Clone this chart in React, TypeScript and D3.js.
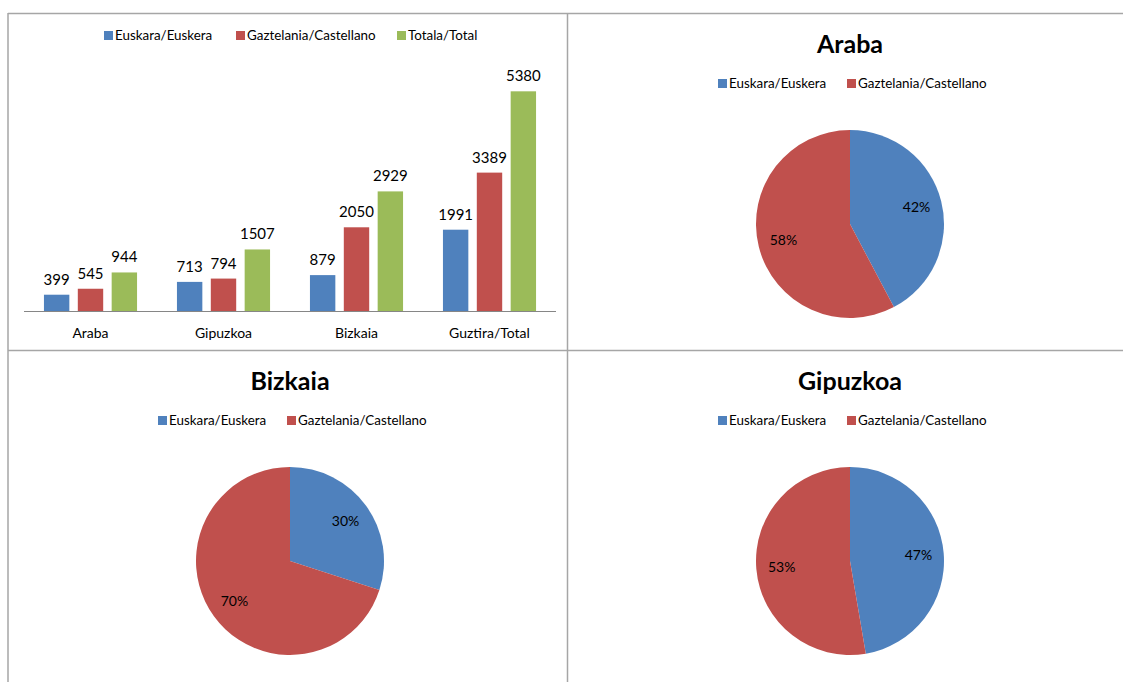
import React from "react";
import * as d3 from "d3";

// DATA
const categories = ["Araba", "Gipuzkoa", "Bizkaia", "Guztira/Total"];
const seriesNames = ["Euskara/Euskera", "Gaztelania/Castellano", "Totala/Total"];
const euskara = [399, 713, 879, 1991];
const gaztelania = [545, 794, 2050, 3389];
const totala = [944, 1507, 2929, 5380];
const pieNames = ["Araba", "Bizkaia", "Gipuzkoa"];
const pieIndex = [0, 2, 1]; // index into categories

const COLORS = ["#4F81BD", "#C0504D", "#9BBB59"];
const FONT = "Lato, 'Liberation Sans', sans-serif";
const GRID = "#a6a6a6";

const W = 1123;
const H = 682;

function BarChart() {
  const series = [euskara, gaztelania, totala];
  const x0 = d3.scaleBand().domain(categories).range([24, 556]).paddingInner(0.3).paddingOuter(0.15);
  const x1 = d3
    .scaleBand()
    .domain(seriesNames)
    .range([0, x0.bandwidth()])
    .paddingInner(0.25);
  const y = d3.scaleLinear().domain([0, 6000]).range([311, 66]);

  return (
    <g fontFamily={FONT}>
      {/* legend */}
      {seriesNames.map((name, i) => {
        const lx = [104, 236, 397][i];
        return (
          <g key={name}>
            <rect x={lx} y={31} width={9} height={9} fill={COLORS[i]} />
            <text x={lx + 11} y={40} fontSize={13.4} fill="#000">
              {name}
            </text>
          </g>
        );
      })}
      {categories.map((c, ci) => (
        <g key={c}>
          {series.map((s, si) => {
            const bx = (x0(c) ?? 0) + (x1(seriesNames[si]) ?? 0);
            return (
              <g key={si}>
                <rect x={bx} y={y(s[ci])} width={x1.bandwidth()} height={y(0) - y(s[ci])} fill={COLORS[si]} />
                <text
                  x={bx + x1.bandwidth() / 2}
                  y={y(s[ci]) - 10}
                  textAnchor="middle"
                  fontSize={15}
                  fill="#000"
                >
                  {s[ci]}
                </text>
              </g>
            );
          })}
          <text x={(x0(c) ?? 0) + x0.bandwidth() / 2} y={338} textAnchor="middle" fontSize={14} fill="#000">
            {c}
          </text>
        </g>
      ))}
      <line x1={24} x2={556} y1={311.5} y2={311.5} stroke="#868686" strokeWidth={1} />
    </g>
  );
}

function PieChart({ title, ci, cx, cy }: { title: string; ci: number; cx: number; cy: number }) {
  const values = [euskara[ci], gaztelania[ci]];
  const total = d3.sum(values);
  const pie = d3.pie<number>().sort(null).value((d) => d);
  const arcs = pie(values);
  const r = 94;
  const arc = d3.arc<d3.PieArcDatum<number>>().innerRadius(0).outerRadius(r);
  const labelArc = d3.arc<d3.PieArcDatum<number>>().innerRadius(r * 0.73).outerRadius(r * 0.73);
  return (
    <g fontFamily={FONT}>
      <text x={cx} y={cy - 171} textAnchor="middle" fontSize={25} fontWeight="bold" fill="#000">
        {title}
      </text>
      {seriesNames.slice(0, 2).map((name, i) => {
        const lx = cx - 132 + i * 129;
        return (
          <g key={name}>
            <rect x={lx} y={cy - 145} width={9} height={9} fill={COLORS[i]} />
            <text x={lx + 11} y={cy - 136} fontSize={13.4} fill="#000">
              {name}
            </text>
          </g>
        );
      })}
      <g transform={`translate(${cx},${cy})`}>
        {arcs.map((a, i) => (
          <path key={i} d={arc(a) ?? ""} fill={COLORS[i]} />
        ))}
        {arcs.map((a, i) => {
          const [lx, ly] = labelArc.centroid(a);
          return (
            <text key={i} x={lx} y={ly} dy="0.35em" textAnchor="middle" fontSize={14} fill="#000">
              {Math.round((a.data / total) * 100)}%
            </text>
          );
        })}
      </g>
    </g>
  );
}

export default function App() {
  const pieCenters = [
    [850, 224],
    [290, 561],
    [850, 561],
  ];
  return (
    <svg
      width={W}
      height={H}
      style={{ position: "absolute", left: 0, top: 0, background: "#fff" }}
    >
      <rect width={W} height={H} fill="#fff" />
      {/* frame */}
      <line x1={8} x2={W} y1={13.5} y2={13.5} stroke={GRID} strokeWidth={1.5} />
      <line x1={8} x2={W} y1={350.5} y2={350.5} stroke={GRID} strokeWidth={1.5} />
      <line x1={8} x2={8} y1={13} y2={H} stroke={GRID} strokeWidth={1.5} />
      <line x1={567.5} x2={567.5} y1={13} y2={H} stroke={GRID} strokeWidth={1.5} />
      <BarChart />
      {pieNames.map((name, i) => (
        <PieChart key={name} title={name} ci={pieIndex[i]} cx={pieCenters[i][0]} cy={pieCenters[i][1]} />
      ))}
    </svg>
  );
}
